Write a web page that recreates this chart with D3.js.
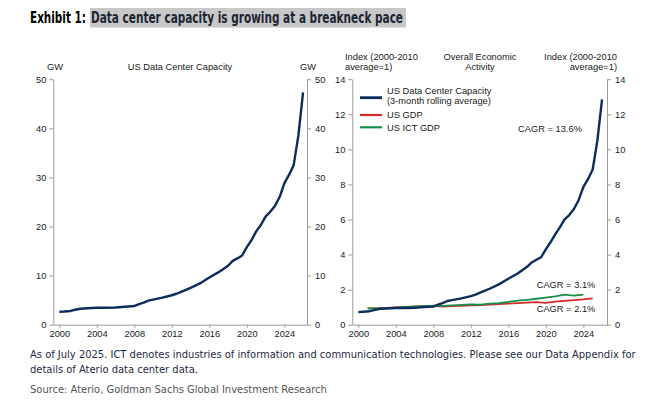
<!DOCTYPE html>
<html>
<head>
<meta charset="utf-8">
<script src="https://cdn.jsdelivr.net/npm/d3@7"></script>
<style>
  body { margin: 0; background: #fff; }
  svg text { font-family: "Liberation Sans", Arial, sans-serif; fill: #1a1a1a; }
  .axis path, .axis line { stroke: #9a9a9a; }
  .axis text { font-size: 9.3px; fill: #1a1a1a; font-family: "Liberation Sans", Arial, sans-serif; }
  .cond { font-family: "DejaVu Sans Condensed", "Liberation Sans Narrow", sans-serif !important; font-stretch: condensed; }
</style>
</head>
<body>
<svg id="chart" width="653" height="401"></svg>
<script>
// donnees ---------------------------------------------------

// panneau gauche : capacite des data centers US (GW)
let anneesCapa = [2000.0, 2000.5, 2001.2, 2001.8, 2002.3, 2003, 2004, 2005, 2006, 2007,
  2008, 2008.5, 2009, 2009.5, 2010, 2011, 2012, 2012.5, 2013, 2014,
  2015, 2016, 2017, 2018, 2018.5, 2019, 2019.5, 2020, 2020.5, 2021,
  2021.5, 2022, 2022.5, 2023, 2023.5, 2024, 2024.5, 2025, 2025.5, 2026];
let capaGW = [2.65, 2.7, 2.8, 3.1, 3.25, 3.35, 3.45, 3.45, 3.5, 3.65,
  3.8, 4.2, 4.5, 4.9, 5.1, 5.5, 6.0, 6.3, 6.7, 7.5,
  8.4, 9.6, 10.7, 12.0, 13.0, 13.5, 14.1, 15.8, 17.2, 19.0,
  20.3, 22.0, 23.0, 24.2, 26.0, 28.8, 30.5, 32.5, 38.5, 47.3];

// panneau droit : indices (moyenne 2000-2010 = 1)
let capaIndex = [0.72, 0.74, 0.77, 0.85, 0.9, 0.92, 0.95, 0.95, 0.96, 1.0,
  1.03, 1.15, 1.23, 1.35, 1.4, 1.5, 1.63, 1.72, 1.83, 2.05,
  2.3, 2.62, 2.92, 3.3, 3.55, 3.7, 3.85, 4.3, 4.7, 5.15,
  5.55, 6.0, 6.25, 6.6, 7.1, 7.85, 8.3, 8.85, 10.5, 12.85];

let anneesGDP = [2001, 2002, 2003, 2004, 2005, 2006, 2007, 2008, 2009, 2010,
  2011, 2012, 2013, 2014, 2015, 2016, 2017, 2018, 2019, 2020,
  2021, 2022, 2023, 2024, 2025];
let gdpIndex = [0.93, 0.94, 0.96, 0.99, 1.02, 1.04, 1.06, 1.07, 1.03, 1.06,
  1.08, 1.1, 1.12, 1.15, 1.18, 1.2, 1.23, 1.26, 1.29, 1.25,
  1.32, 1.36, 1.4, 1.44, 1.5];

let anneesICT = [2001, 2002, 2003, 2004, 2005, 2006, 2007, 2008, 2009, 2010,
  2011, 2012, 2013, 2014, 2015, 2016, 2017, 2018, 2019, 2020,
  2021, 2022, 2023, 2024];
let ictIndex = [0.93, 0.92, 0.94, 0.97, 1.0, 1.03, 1.06, 1.08, 1.07, 1.1,
  1.13, 1.16, 1.15, 1.2, 1.23, 1.3, 1.37, 1.42, 1.48, 1.55,
  1.62, 1.72, 1.66, 1.72];

let ticksAnnees = [2000, 2004, 2008, 2012, 2016, 2020, 2024];
let ticksGW = [0, 10, 20, 30, 40, 50];
let ticksIndex = [0, 2, 4, 6, 8, 10, 12, 14];

let couleurs = {capa: "#0c2d5c", gdp: "#d42a2a", ict: "#13914b"};

let svg = d3.select("#chart");

// ajuste la taille de police pour obtenir la largeur voulue
let ajuster = (sel, largeur) => {
  let n = sel.node();
  let taille = +sel.attr("font-size");
  let l = n.getComputedTextLength();
  if (l > 0) sel.attr("font-size", (taille * largeur / l).toFixed(2));
  return sel;
};

// compresse horizontalement un texte (police plus haute que large)
let compresser = (sel, x, y, largeur) => {
  let l = sel.node().getComputedTextLength();
  let k = l > 0 ? Math.min(1, largeur / l) : 1;
  sel.attr("transform", "translate(" + x + "," + y + ") scale(" + k.toFixed(3) + ",1)");
  return sel;
};

//TITRE------------------------------------------------
svg.append("rect")
  .attr("x", 90).attr("y", 8).attr("width", 316).attr("height", 19.5)
  .attr("fill", "#c8c8c8");
compresser(svg.append("text").attr("class", "cond")
  .attr("font-size", 15.5).attr("font-weight", "bold").style("fill", "#000")
  .text("Exhibit 1:"), 30, 23.3, 56);
compresser(svg.append("text").attr("class", "cond")
  .attr("font-size", 15.5).attr("font-weight", "bold").style("fill", "#1d2633")
  .text("Data center capacity is growing at a breakneck pace"), 91, 23.3, 312);

//PANNEAUX---------------------------------------------
function panneau(x0, x1, yMax, ticksY) {
  let x = d3.scaleLinear()
    .domain([2000 - 6 / 9.375, 2000 + (x1 - x0 - 6) / 9.375])
    .range([x0, x1]);
  let y = d3.scaleLinear().domain([0, yMax]).range([324.7, 79.2]);

  svg.append("g").attr("class", "axis")
    .attr("transform", "translate(0,324.7)")
    .call(d3.axisBottom(x).tickValues(ticksAnnees).tickFormat(d3.format("d")).tickSize(3).tickSizeOuter(0).tickPadding(3));
  svg.append("g").attr("class", "axis")
    .attr("transform", "translate(" + x0 + ",0)")
    .call(d3.axisLeft(y).tickValues(ticksY).tickSize(4).tickSizeOuter(0).tickPadding(3));
  svg.append("g").attr("class", "axis")
    .attr("transform", "translate(" + x1 + ",0)")
    .call(d3.axisRight(y).tickValues(ticksY).tickSize(4).tickSizeOuter(0).tickPadding(4));
  return {x: x, y: y};
}

function ligne(p, xs, ys, couleur, epaisseur) {
  let l = d3.line()
    .x(function(d) { return p.x(d[0]); })
    .y(function(d) { return p.y(d[1]); });
  svg.append("path")
    .datum(d3.zip(xs, ys))
    .attr("d", l)
    .attr("fill", "none")
    .attr("stroke", couleur)
    .attr("stroke-width", epaisseur)
    .attr("stroke-linejoin", "round");
}

function texte(x, y, t, ancre) {
  svg.append("text")
    .attr("x", x).attr("y", y)
    .attr("font-size", 9.3)
    .attr("text-anchor", ancre || "start")
    .text(t);
}

// gauche
let pG = panneau(53.3, 307, 50, ticksGW);
ligne(pG, anneesCapa, capaGW, couleurs.capa, 2.4);
texte(55, 69.5, "GW", "middle");
texte(180, 69.5, "US Data Center Capacity", "middle");
texte(308, 69.5, "GW", "middle");

// droite
let pD = panneau(352.3, 607, 14, ticksIndex);
ligne(pD, anneesGDP, gdpIndex, couleurs.gdp, 1.8);
ligne(pD, anneesICT, ictIndex, couleurs.ict, 1.8);
ligne(pD, anneesCapa, capaIndex, couleurs.capa, 2.4);

texte(345, 60, "Index (2000-2010");
texte(345, 69.5, "average=1)");
texte(480, 60, "Overall Economic", "middle");
texte(480, 69.5, "Activity", "middle");
texte(617, 60, "Index (2000-2010", "end");
texte(617, 69.5, "average=1)", "end");

// legende
let legende = [
  {nom: ["US Data Center Capacity", "(3-month rolling average)"], c: couleurs.capa, y: 97.7, w: 2.4},
  {nom: ["US GDP"], c: couleurs.gdp, y: 115, w: 1.8},
  {nom: ["US ICT GDP"], c: couleurs.ict, y: 127.3, w: 1.8}
];
legende.forEach(function(d) {
  svg.append("line")
    .attr("x1", 360).attr("x2", 382)
    .attr("y1", d.y).attr("y2", d.y)
    .attr("stroke", d.c).attr("stroke-width", d.w + 0.4);
  if (d.nom.length === 2) {
    texte(387, d.y - 3.5, d.nom[0]);
    texte(387, d.y + 6, d.nom[1]);
  } else {
    texte(387, d.y + 3.2, d.nom[0]);
  }
});

texte(550, 132.3, "CAGR = 13.6%", "middle");
texte(566, 288.3, "CAGR = 3.1%", "middle");
texte(566, 311.5, "CAGR = 2.1%", "middle");

//NOTES------------------------------------------------
let note1 = ajuster(svg.append("text").attr("class", "cond")
  .attr("x", 30).attr("y", 358).attr("font-size", 11.5).style("fill", "#1d2a44")
  .text("As of July 2025. ICT denotes industries of information and communication technologies. Please see our Data Appendix for"), 606);
let tailleNote = note1.attr("font-size");
svg.append("text").attr("class", "cond")
  .attr("x", 30).attr("y", 373).attr("font-size", tailleNote).style("fill", "#1d2a44")
  .text("details of Aterio data center data.");
svg.append("text").attr("class", "cond")
  .attr("x", 30).attr("y", 393).attr("font-size", tailleNote).style("fill", "#555")
  .text("Source: Aterio, Goldman Sachs Global Investment Research");
</script>
</body>
</html>
